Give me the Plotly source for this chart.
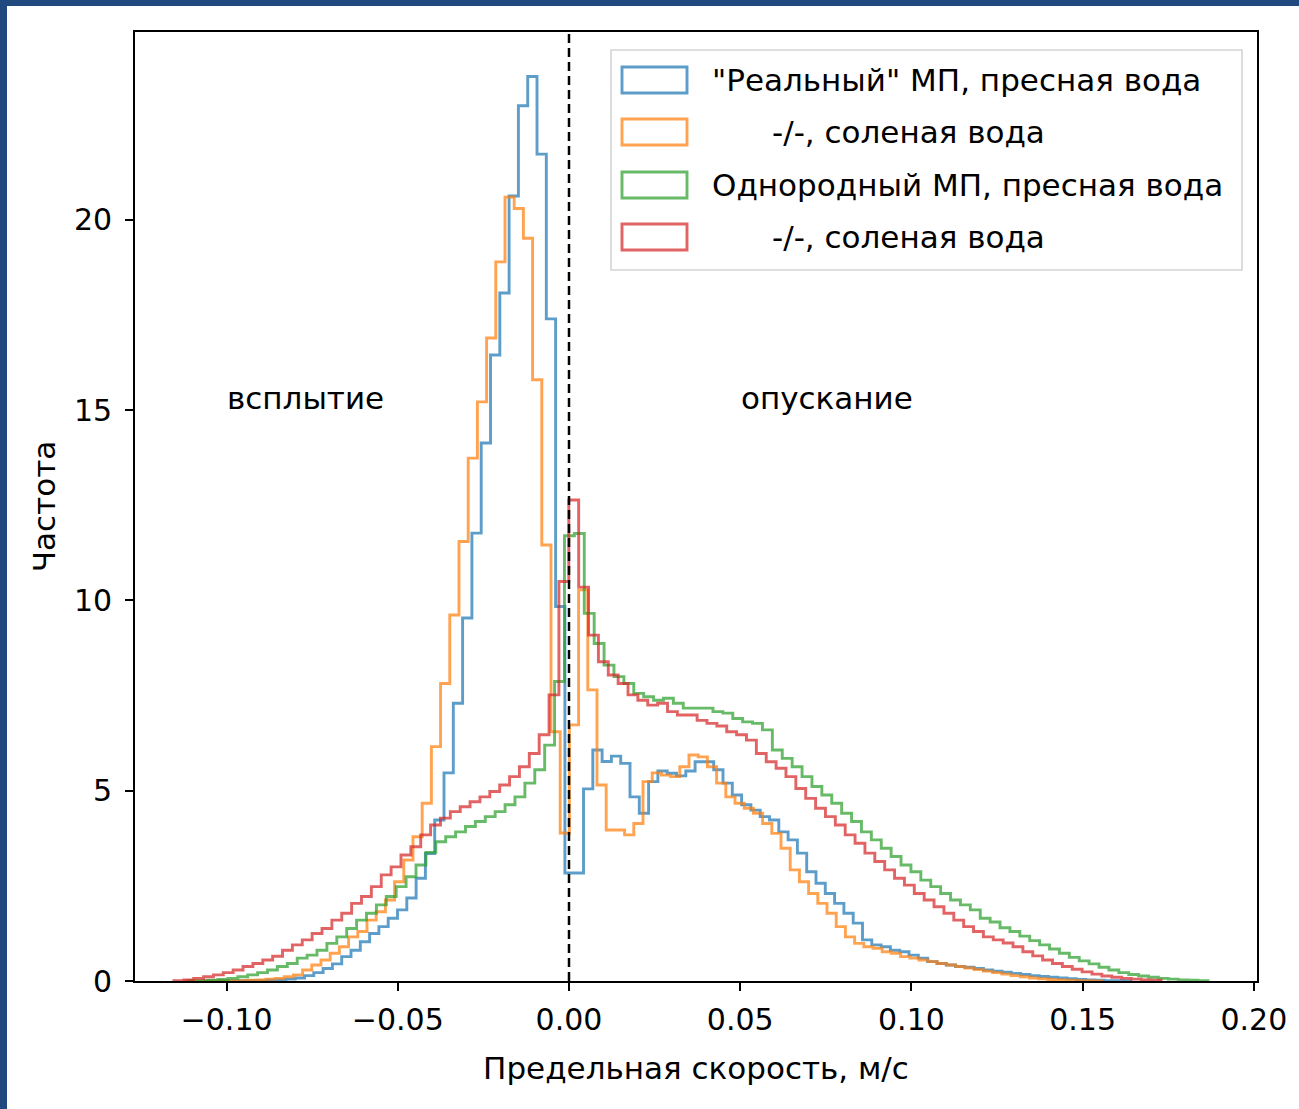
import plotly.graph_objects as go

# ---------------- data (histogram counts) ----------------
labels = ['"Реальный" МП, пресная вода', '-/-, соленая вода',
          'Однородный МП, пресная вода', '-/-, соленая вода']

blue_start, blue_width = -0.10712, 0.002716
blue_counts = [0, 0, 0, 0, 0.005, 0.01, 0.01, 0.02, 0.03, 0.05,
               0.08, 0.14, 0.22, 0.33, 0.45, 0.64, 0.81, 1.03, 1.25, 1.43,
               1.65, 1.87, 2.18, 2.7, 3.35, 4.23, 5.47, 7.3, 9.54, 11.77,
               14.14, 16.45, 18.08, 20.63, 23.0,
               23.77, 21.73, 17.4, 9.84, 2.84, 2.84, 5.05, 6.07, 5.77, 5.91,
               5.72, 4.84, 4.41, 5.24, 5.52, 5.46, 5.39, 5.52, 5.76, 5.76,
               5.55, 5.2, 4.89, 4.63, 4.49, 4.32, 4.23, 3.92, 3.71, 3.36,
               2.87, 2.57, 2.30, 2.04, 1.78, 1.52, 1.08, 0.95, 0.90, 0.81,
               0.77, 0.68, 0.60, 0.51, 0.46, 0.42, 0.38, 0.36, 0.33, 0.29,
               0.26, 0.23, 0.20, 0.17, 0.14, 0.12, 0.10, 0.08, 0.06, 0.04,
               0.03, 0.02, 0.01, 0.01, 0.0]

orange_start, orange_width = -0.11274, 0.002687
orange_counts = [0, 0, 0, 0, 0.005, 0.01, 0.01, 0.02, 0.03, 0.05,
                 0.07, 0.11, 0.16, 0.29, 0.42, 0.55, 0.73, 0.90, 1.16, 1.30,
                 1.60, 1.82, 2.13, 2.61, 3.18, 3.79, 4.67, 6.16, 7.82, 9.62,
                 11.55, 13.74, 15.22, 16.9, 18.9,
                 20.6, 20.3, 19.52, 15.8, 11.46, 6.55, 3.89, 6.73, 10.28, 7.65,
                 5.15, 3.97, 3.97, 3.84, 4.14, 5.24, 5.47, 5.41, 5.37, 5.63,
                 5.94, 5.89, 5.63, 5.2, 4.84, 4.67, 4.54, 4.41, 4.14, 3.88,
                 3.49, 2.92, 2.61, 2.30, 2.04, 1.78, 1.43, 1.16, 0.99, 0.90,
                 0.86, 0.77, 0.73, 0.64, 0.60, 0.55, 0.51, 0.46, 0.42, 0.38,
                 0.34, 0.30, 0.26, 0.22, 0.18, 0.14, 0.11, 0.08, 0.06, 0.04,
                 0.03, 0.02, 0.01, 0.01, 0.0]

green_start, green_width = -0.11118, 0.002891
green_counts = [0.005, 0.01, 0.02, 0.04, 0.07, 0.11, 0.16, 0.22, 0.29, 0.38,
                0.46, 0.60, 0.68, 0.81, 0.99, 1.16, 1.38, 1.60, 1.78, 2.0,
                2.22, 2.48, 2.74, 3.05, 3.38, 3.66, 3.79, 3.92, 4.06, 4.19,
                4.32, 4.45, 4.63, 4.84, 5.2, 5.55, 6.2, 7.87,
                11.7, 11.76, 9.66, 8.87, 8.3, 8.0, 7.82, 7.56, 7.47, 7.38,
                7.43, 7.3, 7.17, 7.17, 7.17, 7.08, 7.04, 6.9, 6.81, 6.77,
                6.6, 6.07, 5.85, 5.63, 5.37, 5.11, 4.89, 4.67, 4.41, 4.19,
                3.92, 3.71, 3.49, 3.27, 3.05, 2.87, 2.65, 2.48, 2.30, 2.13,
                2.0, 1.87, 1.65, 1.55, 1.40, 1.30, 1.18, 1.06, 0.95, 0.84,
                0.73, 0.62, 0.53, 0.45, 0.36, 0.29, 0.22, 0.17, 0.13, 0.10,
                0.07, 0.05, 0.03, 0.02, 0.01]

red_start, red_width = -0.11538, 0.002883
red_counts = [0.01, 0.03, 0.07, 0.11, 0.16, 0.22, 0.29, 0.38, 0.46, 0.55,
              0.65, 0.81, 0.95, 1.08, 1.25, 1.38, 1.60, 1.78, 2.04, 2.22,
              2.48, 2.79, 3.0, 3.31, 3.53, 3.84, 4.10, 4.28, 4.45, 4.58,
              4.71, 4.84, 4.98, 5.15, 5.37, 5.63, 5.98, 6.47, 7.52, 10.5,
              12.64, 10.35, 9.09, 8.39, 8.04, 7.82, 7.52, 7.38, 7.25, 7.3,
              7.08, 6.99, 6.99, 6.85, 6.77, 6.7, 6.55, 6.47, 6.33, 5.98,
              5.76, 5.59, 5.37, 5.06, 4.80, 4.54, 4.32, 4.10, 3.84, 3.62,
              3.36, 3.14, 2.92, 2.70, 2.52, 2.30, 2.13, 1.95, 1.78, 1.60,
              1.43, 1.30, 1.16, 1.08, 1.0, 0.90, 0.77, 0.66, 0.55, 0.46,
              0.38, 0.31, 0.24, 0.18, 0.13, 0.10, 0.07, 0.05, 0.03, 0.02]

x_tickvals = [-0.10, -0.05, 0.00, 0.05, 0.10, 0.15, 0.20]
x_ticktext = ["\u22120.10", "\u22120.05", "0.00", "0.05", "0.10", "0.15", "0.20"]
y_tickvals = [0, 5, 10, 15, 20]
y_ticktext = ["0", "5", "10", "15", "20"]

# ---------------- styling ----------------
colors = ["rgba(31,119,180,0.72)", "rgba(255,127,14,0.72)",
          "rgba(44,160,44,0.72)", "rgba(214,39,40,0.72)"]
FONT = "DejaVu Sans"
W, H = 1299, 1109
L, R, T, B = 135, 42, 32, 128
PW, PH = W - L - R, H - T - B


def px_x(p):
    return (p - L) / PW


def px_y(p):
    return (H - B - p) / PH


def step_xy(start, width, counts):
    edges = [start + i * width for i in range(len(counts) + 1)]
    xs = [edges[0]] + edges[:-1] + [edges[-1]]
    ys = [0] + list(counts) + [0]
    return xs, ys


fig = go.Figure()
series = [(blue_start, blue_width, blue_counts),
          (orange_start, orange_width, orange_counts),
          (green_start, green_width, green_counts),
          (red_start, red_width, red_counts)]
for (s, w, c), col, lab in zip(series, colors, labels):
    xs, ys = step_xy(s, w, c)
    fig.add_trace(go.Scatter(x=xs, y=ys, mode="lines", line_shape="hv",
                             line=dict(color=col, width=2.9), name=lab,
                             showlegend=False, hoverinfo="skip"))

shapes = []
# dashed vertical line at zero
shapes.append(dict(type="line", xref="x", yref="paper", x0=0, x1=0, y0=0, y1=1,
                   line=dict(color="black", width=2.5, dash="9px,5px")))

# custom legend (matplotlib-like patches)
shapes.append(dict(type="rect", xref="paper", yref="paper",
                   x0=px_x(611), x1=px_x(1242), y0=px_y(270), y1=px_y(50),
                   fillcolor="rgba(255,255,255,0.8)",
                   line=dict(color="#d4d4d4", width=1.6)))
row_y = [80, 132, 185, 237]
text_x = [710, 770, 710, 770]
annotations = []
for ry, tx, col, lab in zip(row_y, text_x, colors, labels):
    shapes.append(dict(type="rect", xref="paper", yref="paper",
                       x0=px_x(622), x1=px_x(687), y0=px_y(ry + 13), y1=px_y(ry - 13),
                       fillcolor="rgba(0,0,0,0)", line=dict(color=col, width=2.9)))
    annotations.append(dict(xref="paper", yref="paper", x=px_x(tx), y=px_y(ry),
                            xanchor="left", yanchor="middle", showarrow=False,
                            text=lab, font=dict(family=FONT, size=31, color="black")))

# region labels
annotations.append(dict(xref="x", yref="y", x=-0.0771, y=15.32, text="всплытие",
                        showarrow=False, font=dict(family=FONT, size=31, color="black")))
annotations.append(dict(xref="x", yref="y", x=0.0754, y=15.32, text="опускание",
                        showarrow=False, font=dict(family=FONT, size=31, color="black")))

# dark frame strips of the original screenshot
border = "#20497f"
shapes.append(dict(type="rect", xref="paper", yref="paper", layer="above",
                   x0=px_x(0), x1=px_x(7), y0=px_y(H), y1=px_y(0),
                   fillcolor=border, line=dict(width=0)))
shapes.append(dict(type="rect", xref="paper", yref="paper", layer="above",
                   x0=px_x(0), x1=px_x(W), y0=px_y(6), y1=px_y(0),
                   fillcolor=border, line=dict(width=0)))

fig.update_layout(
    width=W, height=H,
    margin=dict(l=L, r=R, t=T, b=B, pad=0),
    paper_bgcolor="white", plot_bgcolor="white",
    font=dict(family=FONT, size=30, color="black"),
    shapes=shapes, annotations=annotations,
    showlegend=False,
)
fig.update_xaxes(range=[-0.12675, 0.20093], tickvals=x_tickvals, ticktext=x_ticktext,
                 showgrid=False, zeroline=False, showline=True, mirror=True,
                 linecolor="black", linewidth=1.6, ticks="outside", ticklen=8,
                 tickwidth=1.6, tickcolor="black", tickfont=dict(family=FONT, size=30),
                 ticklabelstandoff=3,
                 title=dict(text="Предельная скорость, м/с", standoff=22,
                            font=dict(family=FONT, size=31)))
fig.update_yaxes(range=[0, 24.94], tickvals=y_tickvals, ticktext=y_ticktext,
                 showgrid=False, zeroline=False, showline=True, mirror=True,
                 linecolor="black", linewidth=1.6, ticks="outside", ticklen=8,
                 tickwidth=1.6, tickcolor="black", tickfont=dict(family=FONT, size=30),
                 ticklabelstandoff=7,
                 title=dict(text="Частота", standoff=9,
                            font=dict(family=FONT, size=31)))

fig.write_html("out.html")
